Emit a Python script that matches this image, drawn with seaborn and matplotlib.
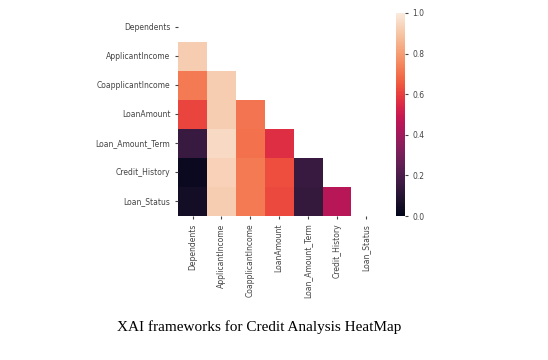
import numpy as np
import pandas as pd
import seaborn as sns
import matplotlib.pyplot as plt

cols = ["Dependents", "ApplicantIncome", "CoapplicantIncome", "LoanAmount",
        "Loan_Amount_Term", "Credit_History", "Loan_Status"]

# lower triangle values, row by row
r_app = [0.92]
r_coapp = [0.72, 0.92]
r_loanamt = [0.61, 0.92, 0.71]
r_term = [0.15, 0.95, 0.70, 0.56]
r_credit = [0.03, 0.93, 0.72, 0.63, 0.15]
r_status = [0.05, 0.92, 0.72, 0.62, 0.14, 0.45]

rows = [[], r_app, r_coapp, r_loanamt, r_term, r_credit, r_status]
n = len(cols)
corr = np.ones((n, n))
for i, r in enumerate(rows):
    for j, v in enumerate(r):
        corr[i, j] = v
        corr[j, i] = v
df = pd.DataFrame(corr, index=cols, columns=cols)
mask = np.triu(np.ones_like(corr, dtype=bool))

fig = plt.figure(figsize=(5.48, 3.6), dpi=100)
ax = fig.add_axes([0.325, 0.40, 0.369, 0.564])
cax = fig.add_axes([0.723, 0.40, 0.016, 0.564])
sns.heatmap(df, mask=mask, vmin=0, vmax=1, ax=ax, cbar_ax=cax)
ax.tick_params(labelsize=5.5, colors="#444444", length=2)
cax.tick_params(labelsize=5.5, colors="#444444", length=2)

fig.text(0.473, 0.09, "XAI frameworks for Credit Analysis HeatMap",
         ha="center", va="center", fontsize=11, family="Liberation Serif")
fig.savefig("out.png", dpi=100)
